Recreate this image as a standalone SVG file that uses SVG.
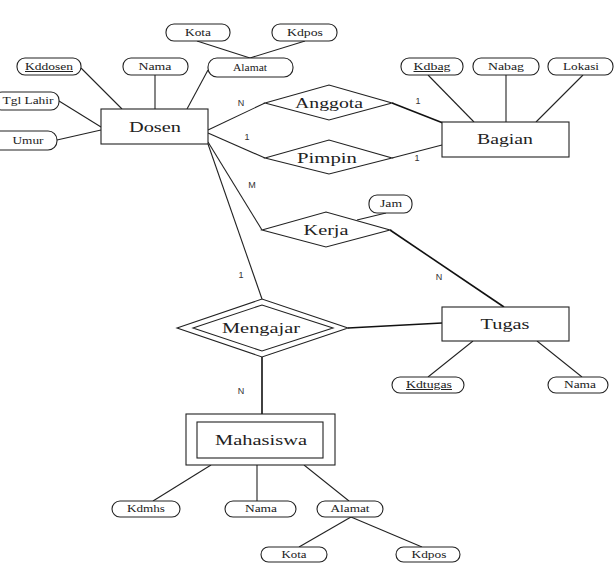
<svg xmlns="http://www.w3.org/2000/svg" width="615" height="564" viewBox="0 0 615 564">
<style>
.s{fill:#fff;stroke:#222;stroke-width:1.1}
.l{stroke:#222;stroke-width:1.1;fill:none}
.b{stroke:#111;stroke-width:1.6;fill:none}
.t{font-family:"Liberation Serif",serif;fill:#222;text-anchor:middle}
.e{font-size:14.5px}
.a{font-size:10px}
.c{font-size:9px;font-family:"Liberation Sans",sans-serif;fill:#333;text-anchor:middle}
</style>
<rect width="615" height="564" fill="#fff"/>
<g id="connectors">
<line class="l" x1="197" y1="41" x2="250" y2="58"/>
<line class="l" x1="305" y1="41" x2="250" y2="58"/>
<line class="l" x1="81" y1="68" x2="122" y2="109"/>
<line class="l" x1="155" y1="75" x2="155" y2="109"/>
<line class="l" x1="208" y1="70" x2="187" y2="109"/>
<line class="l" x1="59" y1="101" x2="101" y2="127"/>
<line class="l" x1="57" y1="140" x2="101" y2="130"/>
<line class="l" x1="208" y1="130" x2="265" y2="103"/>
<line class="l" x1="208" y1="133" x2="265" y2="158"/>
<line class="b" x1="392" y1="103" x2="443" y2="123"/>
<line class="l" x1="392" y1="158" x2="442" y2="145"/>
<line class="l" x1="428" y1="75" x2="474" y2="122"/>
<line class="l" x1="506" y1="75" x2="506" y2="122"/>
<line class="l" x1="583" y1="75" x2="536" y2="122"/>
<line class="l" x1="208" y1="142" x2="262" y2="230"/>
<line class="l" x1="208" y1="144" x2="262" y2="299"/>
<line class="l" x1="357" y1="220" x2="386" y2="213"/>
<line class="b" x1="390" y1="230" x2="504" y2="307"/>
<line class="b" x1="348" y1="328" x2="442" y2="323"/>
<line class="l" x1="473" y1="341" x2="428" y2="377"/>
<line class="l" x1="537" y1="341" x2="582" y2="377"/>
<line class="b" x1="262" y1="357" x2="262" y2="414"/>
<line class="l" x1="211" y1="465" x2="153" y2="501"/>
<line class="l" x1="257" y1="465" x2="257" y2="501"/>
<line class="l" x1="304" y1="465" x2="349" y2="501"/>
<line class="l" x1="351" y1="517" x2="299" y2="547"/>
<line class="l" x1="351" y1="517" x2="422" y2="547"/>
<text class="c" x="241" y="106">N</text>
<text class="c" x="247" y="140">1</text>
<text class="c" x="418" y="104">1</text>
<text class="c" x="417" y="161">1</text>
<text class="c" x="252" y="188">M</text>
<text class="c" x="241" y="278">1</text>
<text class="c" x="439" y="280">N</text>
<text class="c" x="241" y="394">N</text>
</g>
<g id="dosen">
<rect class="s" x="101" y="109" width="107" height="35"/>
<text class="t e" x="155" y="132" textLength="52" lengthAdjust="spacingAndGlyphs">Dosen</text>
</g>
<g id="bagian">
<rect class="s" x="442" y="122" width="127" height="35"/>
<text class="t e" x="505" y="144" textLength="56" lengthAdjust="spacingAndGlyphs">Bagian</text>
</g>
<g id="tugas">
<rect class="s" x="442" y="307" width="127" height="34"/>
<text class="t e" x="505" y="329" textLength="49" lengthAdjust="spacingAndGlyphs">Tugas</text>
</g>
<g id="mahasiswa">
<rect class="s" x="186" y="414" width="149" height="51"/>
<rect class="s" x="197" y="422" width="126" height="36"/>
<text class="t e" x="261" y="445" textLength="92" lengthAdjust="spacingAndGlyphs">Mahasiswa</text>
</g>
<g id="anggota">
<polygon class="s" points="265,103 329,85 392,103 329,120"/>
<text class="t e" x="329" y="108" textLength="68" lengthAdjust="spacingAndGlyphs">Anggota</text>
</g>
<g id="pimpin">
<polygon class="s" points="265,158 329,140 392,158 329,174"/>
<text class="t e" x="327" y="163" textLength="60" lengthAdjust="spacingAndGlyphs">Pimpin</text>
</g>
<g id="kerja">
<polygon class="s" points="262,230 326,212 390,230 326,247"/>
<text class="t e" x="326" y="235" textLength="45" lengthAdjust="spacingAndGlyphs">Kerja</text>
</g>
<g id="mengajar">
<polygon class="s" points="177,328 262,299 348,328 262,357"/>
<polygon class="s" points="193,328 262,305 333,328 262,351"/>
<text class="t e" x="261" y="333" textLength="78" lengthAdjust="spacingAndGlyphs">Mengajar</text>
</g>
<g id="attr-dosen-kota">
<rect class="s" x="166" y="24" width="64" height="17" rx="8"/>
<text class="t a" x="198" y="36" textLength="26" lengthAdjust="spacingAndGlyphs">Kota</text>
</g>
<g id="attr-dosen-kdpos">
<rect class="s" x="272" y="24" width="65" height="17" rx="8"/>
<text class="t a" x="305" y="36" textLength="36" lengthAdjust="spacingAndGlyphs">Kdpos</text>
</g>
<g id="attr-dosen-alamat">
<rect class="s" x="208" y="58" width="85" height="19" rx="9"/>
<text class="t a" x="250" y="71" textLength="34" lengthAdjust="spacingAndGlyphs">Alamat</text>
</g>
<g id="attr-kddosen">
<rect class="s" x="17" y="58" width="64" height="17" rx="8"/>
<text class="t a" x="49" y="70" textLength="48" lengthAdjust="spacingAndGlyphs" text-decoration="underline">Kddosen</text>
</g>
<g id="attr-dosen-nama">
<rect class="s" x="123" y="58" width="65" height="17" rx="8"/>
<text class="t a" x="155" y="70" textLength="33" lengthAdjust="spacingAndGlyphs">Nama</text>
</g>
<g id="attr-tgllahir">
<rect class="s" x="-6" y="92" width="65" height="18" rx="8"/>
<text class="t a" x="28" y="104" textLength="51" lengthAdjust="spacingAndGlyphs">Tgl Lahir</text>
</g>
<g id="attr-umur">
<rect class="s" x="-8" y="131" width="65" height="19" rx="9"/>
<text class="t a" x="28" y="144" textLength="31" lengthAdjust="spacingAndGlyphs">Umur</text>
</g>
<g id="attr-kdbag">
<rect class="s" x="401" y="58" width="62" height="17" rx="8"/>
<text class="t a" x="432" y="70" textLength="37" lengthAdjust="spacingAndGlyphs" text-decoration="underline">Kdbag</text>
</g>
<g id="attr-nabag">
<rect class="s" x="473" y="58" width="66" height="17" rx="8"/>
<text class="t a" x="506" y="70" textLength="36" lengthAdjust="spacingAndGlyphs">Nabag</text>
</g>
<g id="attr-lokasi">
<rect class="s" x="548" y="58" width="65" height="17" rx="8"/>
<text class="t a" x="581" y="70" textLength="36" lengthAdjust="spacingAndGlyphs">Lokasi</text>
</g>
<g id="attr-jam">
<rect class="s" x="369" y="195" width="43" height="18" rx="8"/>
<text class="t a" x="391" y="207" textLength="22" lengthAdjust="spacingAndGlyphs">Jam</text>
</g>
<g id="attr-kdtugas">
<rect class="s" x="392" y="377" width="72" height="16" rx="8"/>
<text class="t a" x="429" y="388" textLength="46" lengthAdjust="spacingAndGlyphs" text-decoration="underline">Kdtugas</text>
</g>
<g id="attr-tugas-nama">
<rect class="s" x="548" y="377" width="60" height="16" rx="8"/>
<text class="t a" x="580" y="388" textLength="32" lengthAdjust="spacingAndGlyphs">Nama</text>
</g>
<g id="attr-kdmhs">
<rect class="s" x="112" y="501" width="68" height="16" rx="8"/>
<text class="t a" x="146" y="512" textLength="38" lengthAdjust="spacingAndGlyphs">Kdmhs</text>
</g>
<g id="attr-mhs-nama">
<rect class="s" x="225" y="501" width="71" height="16" rx="8"/>
<text class="t a" x="261" y="512" textLength="32" lengthAdjust="spacingAndGlyphs">Nama</text>
</g>
<g id="attr-mhs-alamat">
<rect class="s" x="317" y="501" width="66" height="16" rx="8"/>
<text class="t a" x="350" y="512" textLength="39" lengthAdjust="spacingAndGlyphs">Alamat</text>
</g>
<g id="attr-mhs-kota">
<rect class="s" x="261" y="547" width="66" height="15" rx="7.5"/>
<text class="t a" x="294" y="558" textLength="25" lengthAdjust="spacingAndGlyphs">Kota</text>
</g>
<g id="attr-mhs-kdpos">
<rect class="s" x="396" y="547" width="64" height="15" rx="7.5"/>
<text class="t a" x="429" y="558" textLength="35" lengthAdjust="spacingAndGlyphs">Kdpos</text>
</g>
</svg>
